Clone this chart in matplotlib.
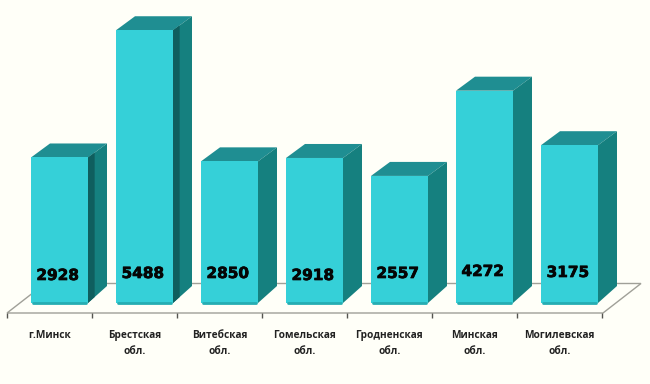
import matplotlib; matplotlib.use('Agg')
import matplotlib.pyplot as plt
from matplotlib.patches import Polygon
import matplotlib.patheffects as pe

regions=['г.Минск','Брестская\nобл.','Витебская\nобл.','Гомельская\nобл.','Гродненская\nобл.','Минская\nобл.','Могилевская\nобл.']
values=[2928,5488,2850,2918,2557,4272,3175]
labels=['2928','5488','2850','2918','2557','4272','3175']

BG='#fffff8'; FRONT='#35d0d8'; TOP='#1f8e92'; SIDE='#15807f'; SIDE_DK='#0f5e5e'; LINE='#a0a098'
W,H=650,384
STEP=85; X0=59.5; PXU=0.0497; Y0=303     # pixels per category / per value unit, baseline row
bw=57/STEP
dx=19/STEP; dy=14/PXU; dyb=17/PXU
lab_y=[275.5,273.5,273.5,275.5,273.5,271.5,272.5]

fig=plt.figure(figsize=(W/100,H/100),dpi=100,facecolor=BG)
ax=fig.add_axes([0,0,1,1])
ax.set_xlim(-X0/STEP,(W-X0)/STEP)
ax.set_ylim(-(H-Y0)/PXU,Y0/PXU)
ax.axis('off')

def px(x): return (x-X0)/STEP
def py(y): return (Y0-y)/PXU

# floor
ax.add_patch(Polygon([(px(7),py(313)),(px(603),py(313)),(px(641),py(283.5)),(px(45),py(283.5))],
    closed=True,fc=BG,ec=LINE,lw=1,zorder=1))
for i in range(8):
    ax.plot([px(7+STEP*i)]*2,[py(313),py(318)],color='#555550',lw=1,zorder=1,solid_capstyle='butt')

ax.bar(range(len(values)),values,width=bw,color=FRONT,zorder=4)
for i,v in enumerate(values):
    r=i+bw/2; l=i-bw/2
    ax.add_patch(Polygon([(l,v),(r,v),(r+dx,v+dy),(l+dx,v+dy)],closed=True,fc=TOP,ec='none',zorder=3))
    ax.add_patch(Polygon([(r,0),(r+dx,dyb),(r+dx,v+dy),(r,v)],closed=True,fc=SIDE,ec='none',zorder=3))
    if i<2:
        # the two left bars have a darker strip on the side face
        ax.add_patch(Polygon([(r,0),(r+dx*0.35,dyb*0.35),(r+dx*0.35,v+dy*0.35),(r,v)],closed=True,fc=SIDE_DK,ec='none',zorder=3))
    ax.plot([l+0.025,r-0.025],[-8,-8],color='#26adb2',lw=2,zorder=5,solid_capstyle='round')
    ax.text(i-0.02,py(lab_y[i]),labels[i],ha='center',va='center',fontsize=11,weight='bold',
        family='DejaVu Sans',color='#050505',zorder=6,
        path_effects=[pe.withStroke(linewidth=0.5,foreground='#050505')])
    tx=i-10/STEP
    ax.text(tx,py(338),regions[i].split('\n')[0],ha='center',va='baseline',fontsize=7.3,weight='bold',
        family='Open Sans',color='#222222',zorder=6)
    if '\n' in regions[i]:
        ax.text(tx,py(354),regions[i].split('\n')[1],ha='center',va='baseline',fontsize=7.3,weight='bold',
            family='Open Sans',color='#222222',zorder=6)

plt.savefig('out.png',dpi=100,facecolor=BG)
